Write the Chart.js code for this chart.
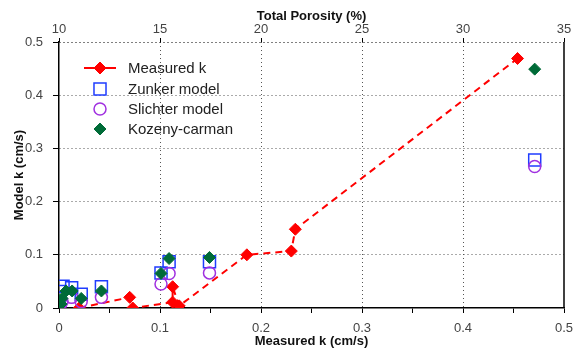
<!DOCTYPE html>
<html>
<head>
<meta charset="utf-8">
<script src="https://cdn.jsdelivr.net/npm/chart.js@4/dist/chart.umd.min.js"></script>
<style>
  html, body { margin: 0; padding: 0; background: #fff; }
  #wrap { width: 574px; height: 349px; }
</style>
</head>
<body>
<div id="wrap"><canvas id="chart" width="574" height="349"></canvas></div>
<script>
// Measured k vs model k
const measuredX = [0.02, 0.07, 0.073, 0.1125, 0.1125, 0.119, 0.186, 0.23, 0.234, 0.454];
const measuredY = [0.0, 0.02, 0.0, 0.011, 0.04, 0.004, 0.1, 0.107, 0.148, 0.469];

const zunkerX = [0.0, 0.001, 0.004, 0.0125, 0.022, 0.042, 0.101, 0.109, 0.149, 0.471];
const zunkerY = [0.019, 0.031, 0.041, 0.038, 0.026, 0.04, 0.066, 0.087, 0.087, 0.278];

const slichterX = [0.001, 0.003, 0.0125, 0.022, 0.042, 0.101, 0.109, 0.149, 0.471];
const slichterY = [0.004, 0.012, 0.02, 0.012, 0.02, 0.045, 0.065, 0.066, 0.266];

const kozenyX = [0.002, 0.003, 0.007, 0.013, 0.022, 0.042, 0.101, 0.109, 0.149, 0.471];
const kozenyY = [0.0075, 0.018, 0.032, 0.032, 0.018, 0.032, 0.065, 0.093, 0.095, 0.449];

const seriesNames = ['Measured k', 'Zunker model', 'Slichter model', 'Kozeny-carman'];
const porosityTicks = [10, 15, 20, 25, 30, 35];

const pts = (xs, ys) => xs.map((x, i) => ({ x: x, y: ys[i] }));

const isMajor = v => Math.round(v * 100) % 10 === 0;
const gridDash = '#555';
const fontFam = '"Liberation Sans", Arial, sans-serif';
const dotted = c => c.type === 'tick' ? [1, 3] : [];
const noPad = s => { s.paddingLeft = 0; s.paddingRight = 0; s.paddingTop = 0; s.paddingBottom = 0; };

// legend drawn inside the plot, top-left
const innerLegend = {
  id: 'innerLegend',
  afterDatasetsDraw(chart) {
    const ctx = chart.ctx;
    const x0 = 100, ys = [68, 89, 109, 129];
    ctx.save();
    ctx.font = '15px ' + fontFam;
    ctx.textBaseline = 'middle';
    chart.data.datasets.forEach((ds, i) => {
      const y = ys[i];
      ctx.setLineDash([]);
      if (i === 0) {
        ctx.strokeStyle = ds.borderColor;
        ctx.lineWidth = 2;
        ctx.beginPath(); ctx.moveTo(x0 - 16, y); ctx.lineTo(x0 + 16, y); ctx.stroke();
      }
      ctx.fillStyle = ds.pointBackgroundColor;
      ctx.strokeStyle = ds.pointBorderColor;
      ctx.lineWidth = ds.pointBorderWidth;
      Chart.helpers.drawPoint(ctx, {
        pointStyle: ds.pointStyle, radius: ds.pointRadius, rotation: 0,
        borderWidth: ds.pointBorderWidth
      }, x0, y);
      ctx.fillStyle = '#222';
      ctx.fillText(seriesNames[i], 128, y + 1);
    });
    // right frame line
    const a = chart.chartArea;
    ctx.strokeStyle = '#000';
    ctx.lineWidth = 1.5;
    ctx.beginPath(); ctx.moveTo(a.right, a.top); ctx.lineTo(a.right, a.bottom); ctx.stroke();
    ctx.restore();
  }
};

new Chart(document.getElementById('chart'), {
  type: 'scatter',
  data: {
    datasets: [
      {
        label: seriesNames[0], data: pts(measuredX, measuredY), showLine: true,
        borderColor: '#ff0000', borderWidth: 2, borderDash: [7, 5],
        pointStyle: 'rectRot', pointRadius: 6, pointBorderWidth: 1,
        pointBackgroundColor: '#ff0000', pointBorderColor: '#ff0000', order: 4
      },
      {
        label: seriesNames[1], data: pts(zunkerX, zunkerY),
        pointStyle: 'rect', pointRadius: 8.5, pointBorderWidth: 1.5,
        pointBackgroundColor: 'rgba(0,0,0,0)', pointBorderColor: '#1f3cff', order: 3
      },
      {
        label: seriesNames[2], data: pts(slichterX, slichterY),
        pointStyle: 'circle', pointRadius: 6, pointBorderWidth: 1.5,
        pointBackgroundColor: 'rgba(0,0,0,0)', pointBorderColor: '#a030e0', order: 2
      },
      {
        label: seriesNames[3], data: pts(kozenyX, kozenyY),
        pointStyle: 'rectRot', pointRadius: 6, pointBorderWidth: 1,
        pointBackgroundColor: '#006b38', pointBorderColor: '#006b38', order: 1
      }
    ]
  },
  options: {
    responsive: false,
    animation: false,
    layout: { padding: { left: 0, right: 7, top: 0, bottom: 0 } },
    plugins: { legend: { display: false }, tooltip: { enabled: false } },
    scales: {
      x: {
        type: 'linear', position: 'bottom', min: 0, max: 0.5,
        afterFit: s => { s.height = 41; noPad(s); },
        border: { display: true, color: '#000', width: 1.5, dash: dotted },
        grid: {
          color: c => (isMajor(c.tick.value) && c.tick.value > 0 && c.tick.value < 0.5) ? gridDash : 'rgba(0,0,0,0)',
          tickColor: '#000', tickLength: 5, lineWidth: 1
        },
        ticks: {
          stepSize: 0.05, autoSkip: false, maxRotation: 0, color: '#444', padding: 8,
          font: { family: fontFam, size: 13 },
          callback: v => isMajor(v) ? String(Math.round(v * 10) / 10) : ''
        },
        title: {
          display: true, text: 'Measured k (cm/s)', color: '#111', padding: { top: -4, bottom: 0 },
          font: { family: fontFam, size: 13, weight: 'bold' }
        }
      },
      x2: {
        type: 'linear', position: 'top', min: 10, max: 35,
        afterFit: s => { s.height = 42; noPad(s); },
        afterBuildTicks: s => { s.ticks = porosityTicks.map(v => ({ value: v })); },
        border: { display: false },
        grid: { drawOnChartArea: false, tickColor: '#000', tickLength: 4 },
        ticks: {
          color: '#444', padding: 1, maxRotation: 0, autoSkip: false,
          font: { family: fontFam, size: 13 }
        },
        title: {
          display: true, text: 'Total Porosity (%)', color: '#111', padding: { top: 9, bottom: 0 },
          font: { family: fontFam, size: 13, weight: 'bold' }
        }
      },
      y: {
        type: 'linear', position: 'left', min: 0, max: 0.5,
        afterFit: s => { s.width = 59; noPad(s); },
        border: { display: true, color: '#000', width: 1.5, dash: dotted },
        grid: {
          color: c => c.tick.value > 0.499 ? '#000' : (c.tick.value > 0.001 ? gridDash : 'rgba(0,0,0,0)'),
          tickColor: '#000', tickLength: 6, lineWidth: 1
        },
        ticks: {
          stepSize: 0.1, color: '#444', padding: 10,
          font: { family: fontFam, size: 13 },
          callback: v => String(Math.round(v * 10) / 10)
        },
        title: {
          display: true, text: 'Model k (cm/s)', color: '#111', padding: { top: 12, bottom: 0 },
          font: { family: fontFam, size: 13, weight: 'bold' }
        }
      }
    }
  },
  plugins: [innerLegend]
});
</script>
</body>
</html>
